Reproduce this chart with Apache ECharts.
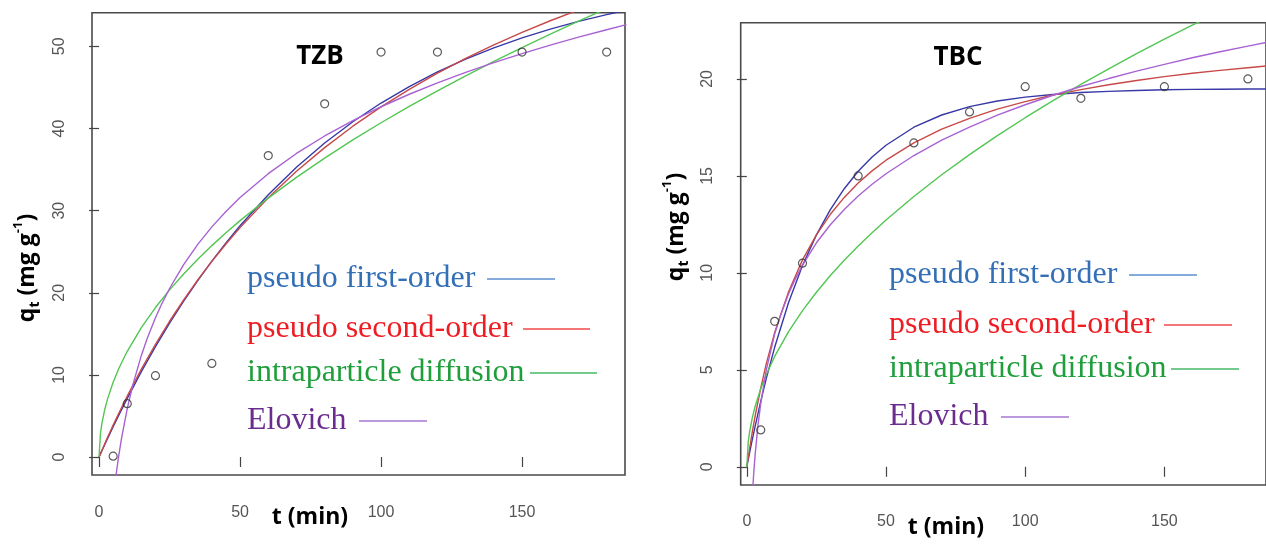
<!DOCTYPE html>
<html>
<head>
<meta charset="utf-8">
<script src="https://cdn.jsdelivr.net/npm/echarts@6/dist/echarts.min.js"></script>
<style>
  html, body { margin: 0; padding: 0; background: #ffffff; }
  #chart { width: 1266px; height: 546px; }
</style>
</head>
<body>
<div id="chart"></div>
<script>
// ---- Observed uptake, TZB (t in min, qt in mg/g) ----
const tzbTime = [5, 10, 20, 40, 60, 80, 100, 120, 150, 180];
const tzbQt   = [0.1, 6.5, 9.9, 11.4, 36.7, 43.0, 49.3, 49.3, 49.3, 49.3];

// ---- Fitted curves, TZB ----
const tzbFitTime = [0, 0.5, 1, 2, 3, 5, 7, 10, 15, 20, 25, 30, 35, 40, 45, 50, 60, 70, 80, 90, 100, 110, 120, 130, 140, 150, 160, 170, 180, 187];
const tzbPFO = [0, 0.38, 0.76, 1.50, 2.24, 3.68, 5.09, 7.14, 10.39, 13.43, 16.29, 18.97, 21.49, 23.86, 26.08, 28.16, 31.94, 35.29, 38.23, 40.82, 43.10, 45.11, 46.88, 48.44, 49.82, 51.03, 52.10, 53.04, 53.87, 54.39];
const tzbPSO = [0, 0.40, 0.80, 1.59, 2.37, 3.88, 5.33, 7.43, 10.71, 13.73, 16.53, 19.13, 21.56, 23.82, 25.94, 27.93, 31.56, 34.79, 37.67, 40.28, 42.63, 44.77, 46.73, 48.53, 50.18, 51.70, 53.12, 54.43, 55.65, 56.46];
const tzbIPD = [0, 2.88, 4.07, 5.76, 7.05, 9.10, 10.77, 12.87, 15.76, 18.20, 20.35, 22.29, 24.08, 25.74, 27.30, 28.78, 31.53, 34.05, 36.40, 38.61, 40.70, 42.69, 44.59, 46.40, 48.16, 49.85, 51.48, 53.07, 54.60, 55.66];
const tzbElovTime = [5, 6, 7, 8, 10, 12, 15, 17, 20, 22, 25, 30, 35, 40, 45, 50, 60, 70, 80, 90, 100, 110, 120, 130, 140, 150, 160, 170, 180, 187];
const tzbElov = [-5.16, -2.25, 0.21, 2.34, 5.90, 8.81, 12.37, 14.37, 16.96, 18.48, 20.52, 23.43, 25.89, 28.02, 29.90, 31.59, 34.50, 36.96, 39.09, 40.97, 42.65, 44.17, 45.56, 46.84, 48.02, 49.12, 50.15, 51.12, 52.03, 52.64];

// ---- Observed uptake, TBC ----
const tbcTime = [5, 10, 20, 40, 60, 80, 100, 120, 150, 180];
const tbcQt   = [1.9, 7.5, 10.5, 15.0, 16.7, 18.3, 19.6, 19.0, 19.6, 20.0];

// ---- Fitted curves, TBC ----
const tbcFitTime = [0, 0.5, 1, 2, 3, 5, 7, 10, 15, 20, 25, 30, 35, 40, 45, 50, 60, 70, 80, 90, 100, 110, 120, 130, 140, 150, 160, 170, 180, 187];
const tbcPFO = [0, 0.37, 0.73, 1.43, 2.10, 3.37, 4.56, 6.16, 8.47, 10.38, 11.96, 13.26, 14.34, 15.24, 15.97, 16.58, 17.51, 18.14, 18.57, 18.86, 19.06, 19.20, 19.30, 19.36, 19.40, 19.44, 19.46, 19.47, 19.48, 19.48];
const tbcPSO = [0, 0.48, 0.94, 1.82, 2.62, 4.06, 5.32, 6.92, 9.03, 10.67, 11.96, 13.02, 13.89, 14.63, 15.26, 15.81, 16.70, 17.41, 17.97, 18.44, 18.83, 19.17, 19.45, 19.70, 19.92, 20.12, 20.29, 20.44, 20.58, 20.67];
const tbcIPD = [0, 1.27, 1.80, 2.55, 3.12, 4.03, 4.76, 5.69, 6.97, 8.05, 9.00, 9.86, 10.65, 11.38, 12.07, 12.73, 13.94, 15.06, 16.10, 17.08, 18.00, 18.88, 19.72, 20.52, 21.30, 22.05, 22.77, 23.47, 24.15, 24.62];
const tbcElovTime = [1.5, 2, 2.5, 3, 4, 5, 7, 10, 12, 15, 17, 20, 25, 30, 35, 40, 45, 50, 60, 70, 80, 90, 100, 110, 120, 130, 140, 150, 160, 170, 180, 187];
const tbcElov = [-2.92, -1.44, -0.29, 0.65, 2.13, 3.27, 5.00, 6.84, 7.77, 8.92, 9.56, 10.40, 11.55, 12.48, 13.27, 13.96, 14.57, 15.11, 16.05, 16.84, 17.52, 18.13, 18.67, 19.16, 19.61, 20.02, 20.40, 20.75, 21.09, 21.40, 21.69, 21.89];

// ---- Axis ticks ----
const timeTicks = [0, 50, 100, 150];
const tzbTicks = [0, 10, 20, 30, 40, 50];
const tbcTicks = [0, 5, 10, 15, 20];

// ---- Model names ----
const modelNames = ['pseudo first-order', 'pseudo second-order', 'intraparticle diffusion', 'Elovich'];

const curveColors  = ['#3838a8', '#c94848', '#52c652', '#a862d2'];
const legendText   = ['#336fb6', '#ee1d24', '#1f9e3c', '#6b2c90'];
const legendLine   = ['#5a8fd0', '#f04848', '#46b866', '#a677d4'];

const pairs = (xs, ys) => xs.map((x, i) => [x, ys[i]]);

function curve(name, grid, xs, ys, k) {
  return {
    type: 'line', name: name, xAxisIndex: grid, yAxisIndex: grid,
    data: pairs(xs, ys), showSymbol: false, smooth: false,
    lineStyle: { color: curveColors[k], width: 1.4 }, itemStyle: { color: curveColors[k] },
    silent: true, z: 2
  };
}
function points(grid, xs, ys) {
  return {
    type: 'scatter', name: 'observed', xAxisIndex: grid, yAxisIndex: grid,
    data: pairs(xs, ys), symbol: 'circle', symbolSize: 8,
    itemStyle: { color: 'rgba(0,0,0,0)', borderColor: '#333', borderWidth: 1.2 },
    silent: true, z: 3
  };
}

const tickStyle = { color: '#555', fontSize: 16, fontFamily: 'Liberation Sans' };

function xAxisDef(grid, min, max, offset, margin) {
  return {
    type: 'value', gridIndex: grid, min: min, max: max, offset: offset,
    axisLine: { show: false }, splitLine: { show: false },
    axisTick: { show: true, length: 10, lineStyle: { color: '#444', width: 1.2 }, customValues: timeTicks },
    axisLabel: Object.assign({ margin: margin, customValues: timeTicks }, tickStyle)
  };
}
function yAxisDef(grid, min, max, ticks, margin) {
  return {
    type: 'value', gridIndex: grid, min: min, max: max,
    axisLine: { show: false }, splitLine: { show: false },
    axisTick: { show: true, length: 10, lineStyle: { color: '#444', width: 1.2 }, customValues: ticks },
    axisLabel: Object.assign({ margin: margin, rotate: 90, customValues: ticks }, tickStyle)
  };
}

// Key: each model name followed by a short line in its colour.
// rows: [text left, text middle y, line x0, line x1, line y]
const keyRowsTZB = [[247, 279, 487, 555, 279], [247, 329, 523, 590, 329], [247, 373, 530, 597, 373], [247, 421, 359, 427, 421]];
const keyRowsTBC = [[889, 275, 1129, 1197, 275], [889, 325, 1164, 1232, 325], [889, 369, 1171, 1239, 369], [889, 417, 1001, 1069, 417]];

function keyGraphics(rows) {
  const out = [];
  rows.forEach((r, k) => {
    out.push({
      type: 'text', x: r[0], y: r[1], silent: true,
      style: { text: modelNames[k], align: 'left', verticalAlign: 'middle', fontFamily: 'Liberation Serif', fontSize: 32, fill: legendText[k] }
    });
    out.push({
      type: 'line', silent: true,
      shape: { x1: r[2], y1: r[4], x2: r[3], y2: r[4] },
      style: { stroke: legendLine[k], lineWidth: 1.6 }
    });
  });
  return out;
}

const boldFont = '"Open Sans", "Liberation Sans", sans-serif';
function qtTitle(x, y) {
  return {
    type: 'text', x: x, y: y, rotation: Math.PI / 2, silent: true,
    style: {
      text: '{b|q}{s|t}{b| (mg g}{p|-1}{b|)}',
      align: 'center', verticalAlign: 'middle',
      rich: {
        b: { fontFamily: boldFont, fontWeight: 'bold', fontSize: 23, lineHeight: 30, fill: '#000' },
        s: { fontFamily: boldFont, fontWeight: 'bold', fontSize: 14, lineHeight: 14, verticalAlign: 'bottom', fill: '#000' },
        p: { fontFamily: boldFont, fontWeight: 'bold', fontSize: 13, lineHeight: 13, verticalAlign: 'top', fill: '#000' }
      }
    }
  };
}
function plainText(txt, x, y, size) {
  return {
    type: 'text', x: x, y: y, silent: true,
    style: { text: txt, align: 'center', verticalAlign: 'middle', fontFamily: boldFont, fontWeight: 'bold', fontSize: size, fill: '#000' }
  };
}

const option = {
  animation: false,
  backgroundColor: '#ffffff',
  grid: [
    { left: 92, right: 641, top: 12.7, bottom: 71, show: true, borderColor: '#4a4a4a', borderWidth: 1.6, backgroundColor: 'transparent' },
    { left: 740.7, right: -5.1, top: 22.7, bottom: 61, show: true, borderColor: '#4a4a4a', borderWidth: 1.6, backgroundColor: 'transparent' }
  ],
  xAxis: [
    xAxisDef(0, -2.5, 186.5, 1, 29),
    xAxisDef(1, -2.2, 186.5, 2, 27)
  ],
  yAxis: [
    yAxisDef(0, -2.19, 54.1, tzbTicks, 24),
    yAxisDef(1, -0.94, 22.9, tbcTicks, 25)
  ],
  series: [
    curve(modelNames[0], 0, tzbFitTime, tzbPFO, 0),
    curve(modelNames[1], 0, tzbFitTime, tzbPSO, 1),
    curve(modelNames[2], 0, tzbFitTime, tzbIPD, 2),
    curve(modelNames[3], 0, tzbElovTime, tzbElov, 3),
    points(0, tzbTime, tzbQt),
    curve(modelNames[0], 1, tbcFitTime, tbcPFO, 0),
    curve(modelNames[1], 1, tbcFitTime, tbcPSO, 1),
    curve(modelNames[2], 1, tbcFitTime, tbcIPD, 2),
    curve(modelNames[3], 1, tbcElovTime, tbcElov, 3),
    points(1, tbcTime, tbcQt)
  ],
  graphic: [
    qtTitle(27, 268),
    qtTitle(676, 227),
    plainText('t (min)', 310, 517, 23),
    plainText('t (min)', 946, 527, 23),
    plainText('TZB', 320, 57, 26),
    plainText('TBC', 958, 58, 26)
  ].concat(keyGraphics(keyRowsTZB), keyGraphics(keyRowsTBC))
};

const chart = echarts.init(document.getElementById('chart'), null, { renderer: 'canvas' });
chart.setOption(option);
</script>
</body>
</html>
